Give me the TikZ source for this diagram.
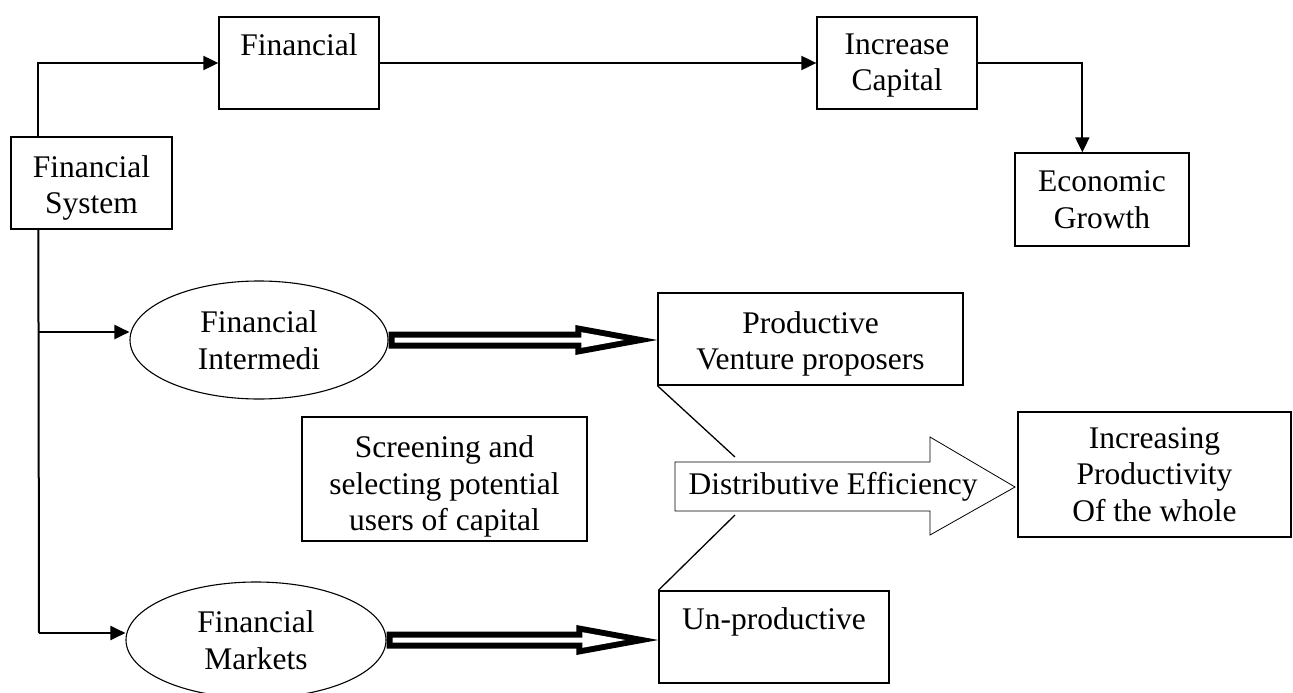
\documentclass[tikz,border=0pt]{standalone}
\usepackage{fontspec}
\setmainfont{Liberation Serif}
\usetikzlibrary{shapes.geometric,arrows.meta,calc}
\newcommand{\dfont}{\fontsize{31.5}{36.5}\selectfont}
\newcommand{\hollowarrow}[2]{%
  \fill[black] let \p1=(#1), \p2=(#2) in
    (\x1,{\y1+8.5pt}) -- ({\x2-82pt},{\y1+8.5pt}) -- ({\x2-82pt},{\y1+15pt}) -- (\x2,\y1)
    -- ({\x2-82pt},{\y1-15pt}) -- ({\x2-82pt},{\y1-8.5pt}) -- (\x1,{\y1-8.5pt}) -- cycle;
  \fill[white] let \p1=(#1), \p2=(#2) in
    ({\x1+6pt},{\y1+2.5pt}) -- ({\x2-76pt},{\y1+2.5pt}) -- ({\x2-76pt},{\y1+7.8pt}) -- ({\x2-33pt},\y1)
    -- ({\x2-76pt},{\y1-7.8pt}) -- ({\x2-76pt},{\y1-2.5pt}) -- ({\x1+6pt},{\y1-2.5pt}) -- cycle;
}
\tikzset{
  box/.style={draw, line width=1.3pt, inner sep=0pt, align=center, font=\dfont},
  oval/.style={ellipse, draw, line width=1.1pt, inner sep=0pt, align=center, font=\dfont},
  conn/.style={line width=2pt},
  arr/.style={conn, -{Triangle[length=15pt,width=14pt]}},
  thinline/.style={line width=1.3pt},
}
\begin{document}
\begin{tikzpicture}[x=1pt,y=-1pt]
\useasboundingbox (0,0) rectangle (1293,693);
\fill[white] (0,0) rectangle (1293,693);

% boxes
\node[box, minimum width=161, minimum height=92] (FS) at (91.5,183) {\rule{0pt}{31.5pt}Financial\\System};
\node[box, minimum width=160, minimum height=92] (Fin) at (299,63) {Financial\\\mbox{}};
\node[box, minimum width=160, minimum height=92] (IC) at (897,63) {\rule{0pt}{26pt}Increase\\Capital};
\node[box, minimum width=174, minimum height=93] (EG) at (1102,199.5) {Economic\\Growth};
\node[oval, minimum width=258, minimum height=118] (FI) at (259,340) {Financial\\Intermedi};
\node[oval, minimum width=260, minimum height=116] (FM) at (256,640) {Financial\\Markets};
\node[box, minimum width=305, minimum height=92] (PVP) at (810.5,339) {\rule{0pt}{31.5pt}Productive\\Venture proposers};
\node[box, minimum width=230, minimum height=92] (UP) at (774,637) {Un-productive\\\mbox{}};
\node[box, minimum width=285, minimum height=124] (SCR) at (444.5,479) {\rule{0pt}{37.5pt}Screening and\\selecting potential\\users of capital};
\node[box, minimum width=273, minimum height=125] (IP) at (1154.5,474.5) {Increasing\\Productivity\\Of the whole};

% big arrow
\draw[line width=0.8pt] (675,462) -- (930,462) -- (930,437) -- (1015,487) -- (930,535) -- (930,511) -- (675,511) -- cycle;
\node[font=\dfont, inner sep=0pt] (DE) at (833,486.5) {Distributive Efficiency};

% connectors
\draw[arr] ($(FS.north west)+(28,0)$) |- (Fin.west);
\draw[arr] (Fin.east) -- (IC.west);
\draw[arr] (IC.east) -| ($(EG.north west)+(68,0)$);
\coordinate (tb) at (39,633);
\coordinate (tm) at (39,332);
\draw[conn] ($(FS.south west)+(28,0)$) -- (tb);
\draw[arr] (tm) -- (tm -| FI.west);
\draw[arr] (tb) -- (tb -| FM.west);

\hollowarrow{FI.east}{PVP.west}
\hollowarrow{FM.east}{UP.west}

\coordinate (d1) at (735,457);
\coordinate (d2) at (735,515);
\draw[thinline] (PVP.south west) -- (d1);
\draw[thinline] (d2) -- (UP.north west);
\end{tikzpicture}
\end{document}
